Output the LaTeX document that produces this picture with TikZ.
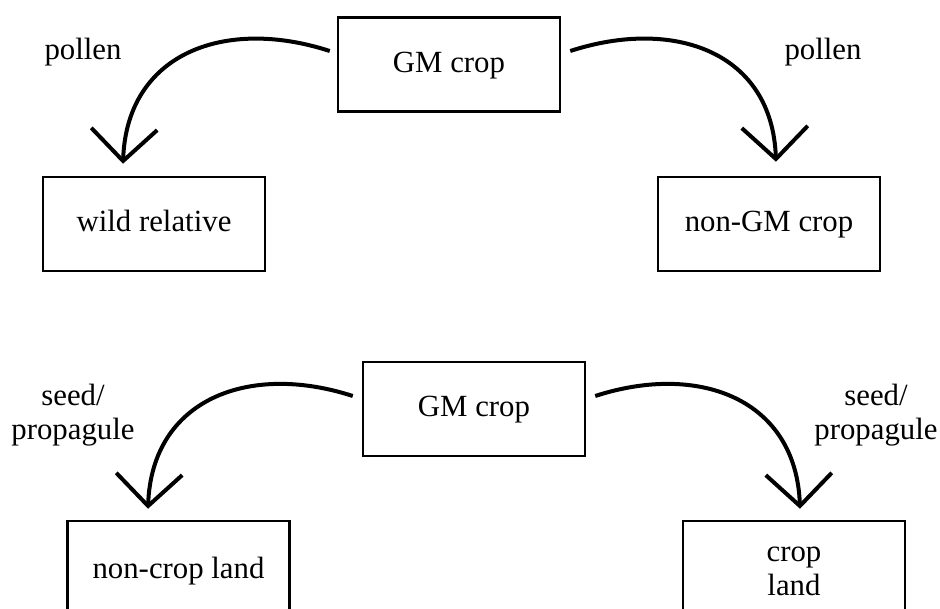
\documentclass[tikz,border=0pt]{standalone}
\usepackage{fontspec}
\setmainfont{Liberation Serif}
\usetikzlibrary{arrows.meta}

\tikzset{
  boxframe/.style={draw,line width=2.5pt,minimum width=222pt,inner sep=0pt,align=center},
  cropbox/.style={boxframe,minimum height=94pt,text height=22pt,text depth=6pt},
  landbox/.style={boxframe,minimum height=100pt},
  flowlabel/.style={align=center,inner sep=0pt},
  spread/.style={line width=4pt,-{Straight Barb[length=32pt,width=66pt]}},
}

\begin{document}
\begin{tikzpicture}[x=1pt,y=-1pt,font=\fontsize{30.8}{34}\selectfont]
  \useasboundingbox (0,0) rectangle (940,609);

  % Pollen flow
  \node[cropbox] (gmtop) at (449,64.5) {GM crop};
  \node[cropbox] (wild) at (154,224) {wild relative};
  \node[cropbox] (nongm) at (769,224) {non-GM crop};
  \node[flowlabel] (pollenl) at (83,52) {pollen};
  \node[flowlabel] (pollenr) at (823,52) {pollen};

  \draw[spread] ([xshift=-7pt,yshift=13.5pt]gmtop.west)
    to[out=162,in=88,looseness=1.2] ([xshift=-31pt,yshift=12pt]wild.north);
  \draw[spread] ([xshift=9pt,yshift=13.5pt]gmtop.east)
    to[out=18,in=92,looseness=1.2] ([xshift=7pt,yshift=14pt]nongm.north);

  % Seed / propagule flow
  \node[cropbox] (gmbot) at (474,409) {GM crop};
  \node[landbox] (noncrop) at (178.5,571) {non-crop land};
  \node[landbox] (cropland) at (794,571) {crop\\land};
  \node[flowlabel] (seedl) at (73,415) {seed/\\propagule};
  \node[flowlabel] (seedr) at (876,415) {seed/\\propagule};

  \draw[spread] ([xshift=-9pt,yshift=13pt]gmbot.west)
    to[out=162,in=88,looseness=1.2] ([xshift=-30.5pt,yshift=11pt]noncrop.north);
  \draw[spread] ([xshift=9pt,yshift=13pt]gmbot.east)
    to[out=18,in=92,looseness=1.2] ([xshift=6pt,yshift=11pt]cropland.north);
\end{tikzpicture}
\end{document}
